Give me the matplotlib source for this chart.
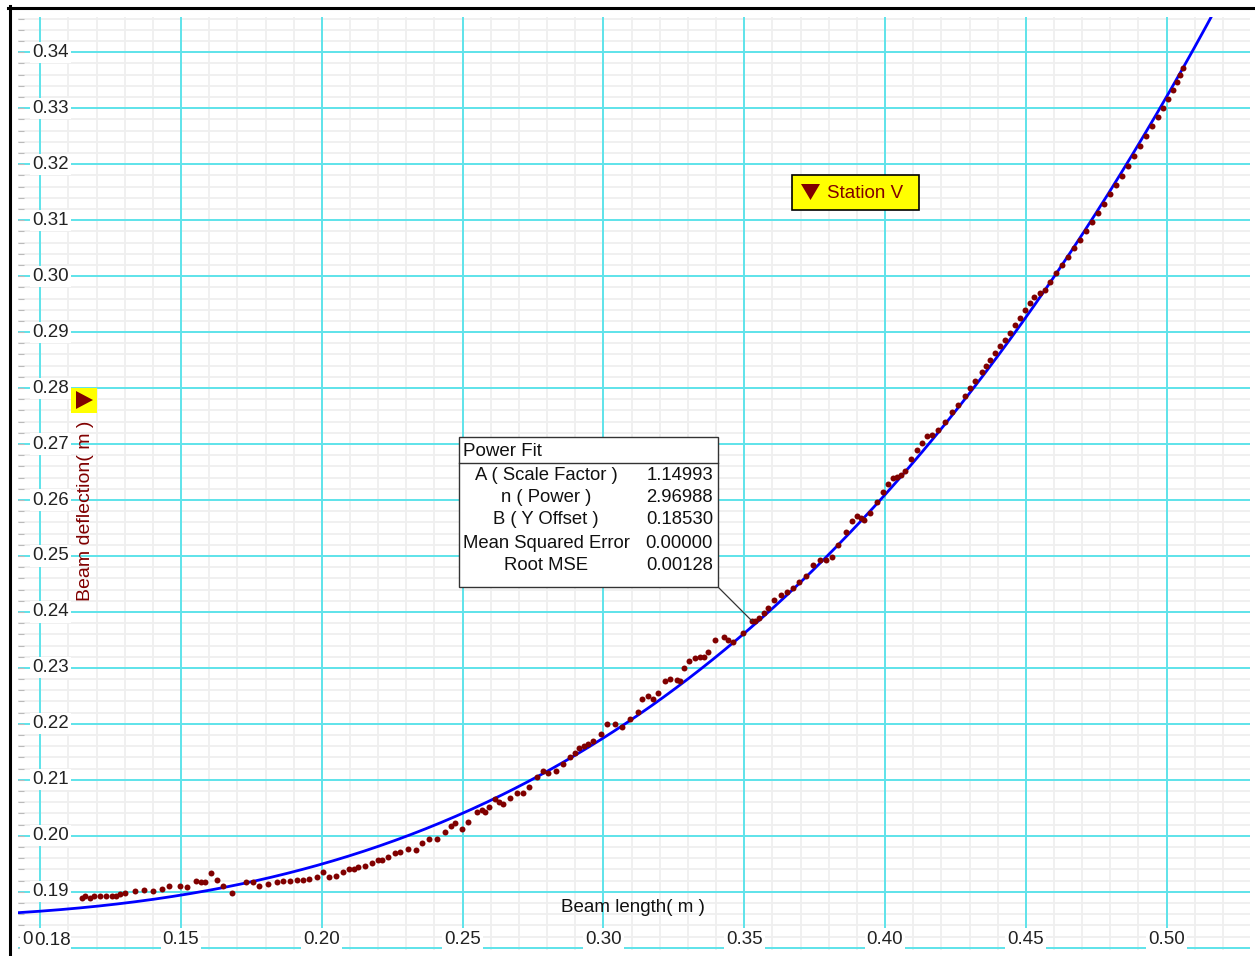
import matplotlib.pyplot as plt
import numpy as np
from matplotlib.transforms import blended_transform_factory
from matplotlib.patches import Rectangle, Polygon
from matplotlib.lines import Line2D

plt.rcParams['font.family'] = ['Liberation Sans', 'DejaVu Sans']

# measured points (Station V)
beam_length = [
    0.1147, 0.1159, 0.1177, 0.1191, 0.1212, 0.1234, 0.1254, 0.1269, 0.1283, 0.1301,
    0.1337, 0.1369, 0.1400, 0.1431, 0.1458, 0.1496, 0.1522, 0.1553, 0.1570, 0.1585,
    0.1605, 0.1627, 0.1648, 0.1680, 0.1731, 0.1755, 0.1778, 0.1810, 0.1842, 0.1863,
    0.1887, 0.1911, 0.1934, 0.1956, 0.1982, 0.2005, 0.2027, 0.2050, 0.2074, 0.2098,
    0.2114, 0.2130, 0.2153, 0.2177, 0.2201, 0.2213, 0.2236, 0.2260, 0.2278, 0.2307,
    0.2335, 0.2355, 0.2382, 0.2408, 0.2438, 0.2458, 0.2473, 0.2497, 0.2520, 0.2550,
    0.2568, 0.2580, 0.2595, 0.2615, 0.2630, 0.2645, 0.2668, 0.2692, 0.2713, 0.2737,
    0.2765, 0.2787, 0.2804, 0.2832, 0.2858, 0.2881, 0.2899, 0.2914, 0.2931, 0.2946,
    0.2962, 0.2990, 0.3012, 0.3041, 0.3065, 0.3094, 0.3122, 0.3136, 0.3159, 0.3177,
    0.3195, 0.3219, 0.3237, 0.3260, 0.3272, 0.3286, 0.3305, 0.3325, 0.3343, 0.3357,
    0.3373, 0.3396, 0.3428, 0.3444, 0.3461, 0.3495, 0.3527, 0.3538, 0.3554, 0.3570,
    0.3586, 0.3607, 0.3630, 0.3651, 0.3672, 0.3696, 0.3719, 0.3743, 0.3769, 0.3791,
    0.3811, 0.3834, 0.3862, 0.3882, 0.3902, 0.3914, 0.3925, 0.3947, 0.3973, 0.3992,
    0.4012, 0.4027, 0.4042, 0.4056, 0.4071, 0.4091, 0.4113, 0.4130, 0.4150, 0.4166,
    0.4189, 0.4213, 0.4238, 0.4259, 0.4284, 0.4302, 0.4320, 0.4344, 0.4359, 0.4373,
    0.4391, 0.4408, 0.4426, 0.4444, 0.4462, 0.4479, 0.4497, 0.4515, 0.4529, 0.4550,
    0.4568, 0.4586, 0.4607, 0.4629, 0.4650, 0.4671, 0.4693, 0.4714, 0.4735, 0.4756,
    0.4778, 0.4799, 0.4820, 0.4842, 0.4863, 0.4884, 0.4906, 0.4927, 0.4948, 0.4969,
    0.4987, 0.5005, 0.5023, 0.5037, 0.5048, 0.5058,
]
beam_deflection = [
    0.1889, 0.1892, 0.1889, 0.1893, 0.1892, 0.1892, 0.1892, 0.1893, 0.1896, 0.1898,
    0.1901, 0.1904, 0.1901, 0.1905, 0.1911, 0.1911, 0.1908, 0.1920, 0.1917, 0.1917,
    0.1933, 0.1921, 0.1911, 0.1898, 0.1917, 0.1917, 0.1911, 0.1914, 0.1917, 0.1920,
    0.1920, 0.1921, 0.1921, 0.1923, 0.1926, 0.1935, 0.1927, 0.1929, 0.1936, 0.1941,
    0.1941, 0.1944, 0.1946, 0.1951, 0.1957, 0.1956, 0.1962, 0.1969, 0.1971, 0.1976,
    0.1975, 0.1987, 0.1995, 0.1995, 0.2006, 0.2017, 0.2023, 0.2013, 0.2025, 0.2043,
    0.2046, 0.2043, 0.2052, 0.2066, 0.2060, 0.2057, 0.2067, 0.2077, 0.2076, 0.2088,
    0.2105, 0.2115, 0.2112, 0.2115, 0.2129, 0.2141, 0.2148, 0.2157, 0.2161, 0.2164,
    0.2170, 0.2182, 0.2199, 0.2199, 0.2195, 0.2209, 0.2221, 0.2245, 0.2249, 0.2245,
    0.2255, 0.2277, 0.2280, 0.2279, 0.2277, 0.2299, 0.2313, 0.2317, 0.2319, 0.2319,
    0.2329, 0.2349, 0.2355, 0.2349, 0.2347, 0.2362, 0.2383, 0.2384, 0.2389, 0.2398,
    0.2407, 0.2421, 0.2430, 0.2436, 0.2443, 0.2454, 0.2465, 0.2484, 0.2493, 0.2493,
    0.2498, 0.2520, 0.2543, 0.2563, 0.2571, 0.2567, 0.2564, 0.2576, 0.2597, 0.2615,
    0.2629, 0.2639, 0.2642, 0.2645, 0.2652, 0.2674, 0.2689, 0.2701, 0.2714, 0.2716,
    0.2725, 0.2739, 0.2757, 0.2770, 0.2786, 0.2800, 0.2812, 0.2829, 0.2839, 0.2850,
    0.2863, 0.2875, 0.2886, 0.2898, 0.2912, 0.2925, 0.2939, 0.2952, 0.2962, 0.2970,
    0.2975, 0.2989, 0.3005, 0.3020, 0.3034, 0.3050, 0.3064, 0.3080, 0.3096, 0.3112,
    0.3129, 0.3146, 0.3163, 0.3179, 0.3196, 0.3214, 0.3232, 0.3250, 0.3268, 0.3284,
    0.3300, 0.3316, 0.3332, 0.3346, 0.3359, 0.3371,
]

# power fit parameters
fit_names = ["A ( Scale Factor )", "n ( Power )", "B ( Y Offset )",
             "Mean Squared Error", "Root MSE"]
fit_values = ["1.14993", "2.96988", "0.18530", "0.00000", "0.00128"]
A, n, B = 1.14993, 2.96988, 0.18530

x_ticks = [0.10, 0.15, 0.20, 0.25, 0.30, 0.35, 0.40, 0.45, 0.50]
y_ticks = [0.18, 0.19, 0.20, 0.21, 0.22, 0.23, 0.24, 0.25, 0.26, 0.27,
           0.28, 0.29, 0.30, 0.31, 0.32, 0.33, 0.34]

W, H = 1255, 956
xlim = (0.0921, 0.5296)
ylim = (0.1796, 0.3463)

fig = plt.figure(figsize=(W / 100, H / 100), dpi=100)
ax = fig.add_axes([18 / W, 6 / H, (1250 - 18) / W, (950 - 17) / H])
ax.set_xlim(*xlim)
ax.set_ylim(*ylim)

cyan = '#5fe3ea'
darkred = '#800000'
fs = 13.5

# grid: light minor lines, cyan major lines
for v in np.arange(0.10, 0.53, 0.01):
    ax.axvline(v, color='#efefef', linewidth=1.3, zorder=0.5)
for v in np.arange(0.18, 0.347, 0.002):
    ax.axhline(v, color='#efefef', linewidth=1.3, zorder=0.5)
for v in x_ticks:
    ax.axvline(v, color=cyan, linewidth=1.4, zorder=1)
for v in y_ticks:
    ax.axhline(v, color=cyan, linewidth=1.4, zorder=1)

ax.set_xticks([])
ax.set_yticks(np.arange(0.18, 0.347, 0.002))
ax.tick_params(axis='y', labelleft=False, direction='in', length=4, color='#bbbbbb')
for s in ax.spines.values():
    s.set_visible(False)

# fitted curve
xc = np.linspace(xlim[0], xlim[1], 400)
ax.plot(xc, A * xc ** n + B, color='#0000ff', linewidth=2.0, zorder=3)

# data points
ax.plot(beam_length, beam_deflection, 'o', color=darkred, markersize=4.3,
        markeredgewidth=0, zorder=4)

# tick labels drawn inside the plot
tx = blended_transform_factory(ax.transData, ax.transAxes)
ty = blended_transform_factory(ax.transAxes, ax.transData)
bb = dict(facecolor='white', edgecolor='none', pad=1.5)
for v in x_ticks:
    ax.text(v, (950 - 939) / 933, f"{v:.2f}", transform=tx, ha='center',
            va='center', fontsize=fs, color='#222222', bbox=bb, zorder=5)
for v in y_ticks:
    if v > 0.185:
        ax.text((32 - 18) / 1232, v, f"{v:.2f}", transform=ty, ha='left',
                va='center', fontsize=fs, color='#222222', bbox=bb, zorder=6)
    else:
        # bottom label sits over the x-origin label, as in the source
        ax.text((34 - 18) / 1232, ylim[0] + (950 - 940) / 5600, f"{v:.2f}",
                transform=ty, ha='left', va='center', fontsize=fs,
                color='#222222', zorder=6,
                bbox=dict(facecolor='white', edgecolor='none', pad=0.4))

# axis titles
fig.text(633 / W, 1 - 908 / H, "Beam length( m )", ha='center', va='center',
         fontsize=fs, color='#111111')
fig.text(85 / W, 1 - 511 / H, "Beam deflection( m )", ha='center', va='center',
         rotation=90, fontsize=14, color=darkred)

# y-axis series marker
fig.patches.append(Rectangle((71 / W, 1 - 413 / H), 26 / W, 25 / H,
                             transform=fig.transFigure, facecolor='#ffff00',
                             edgecolor='none', figure=fig))
fig.patches.append(Polygon([(76 / W, 1 - 391 / H), (76 / W, 1 - 409 / H),
                            (93 / W, 1 - 400 / H)], closed=True,
                           transform=fig.transFigure, facecolor=darkred,
                           edgecolor='none', figure=fig))

# legend box
fig.patches.append(Rectangle((792 / W, 1 - 210 / H), 127 / W, 35 / H,
                             transform=fig.transFigure, facecolor='#ffff00',
                             edgecolor='black', linewidth=1.2, figure=fig))
fig.patches.append(Polygon([(801 / W, 1 - 184 / H), (820 / W, 1 - 184 / H),
                            (810.5 / W, 1 - 200 / H)], closed=True,
                           transform=fig.transFigure, facecolor=darkred,
                           edgecolor='none', figure=fig))
fig.text(827 / W, 1 - 193 / H, "Station V", ha='left', va='center',
         fontsize=fs, color=darkred)

# power fit box
fig.patches.append(Rectangle((459 / W, 1 - 587 / H), 259 / W, 150 / H,
                             transform=fig.transFigure, facecolor='white',
                             edgecolor='#333333', linewidth=1.0, figure=fig))
fig.lines.append(Line2D([459 / W, 718 / W], [1 - 463 / H, 1 - 463 / H],
                        transform=fig.transFigure, color='#333333', linewidth=1.0))
fig.lines.append(Line2D([719 / W, 752 / W], [1 - 588 / H, 1 - 621 / H],
                        transform=fig.transFigure, color='#333333', linewidth=0.9))
fig.text(463 / W, 1 - 451 / H, "Power Fit", ha='left', va='center',
         fontsize=fs, color='#111111')
row_y = [475, 497, 520, 543, 566]
for name, val, ry in zip(fit_names, fit_values, row_y):
    fig.text(546 / W, 1 - ry / H, name, ha='center', va='center',
             fontsize=13.3, color='#111111')
    fig.text(713 / W, 1 - ry / H, val, ha='right', va='center',
             fontsize=13.3, color='#111111')

# outer frame
fig.lines.append(Line2D([9.5 / W, 9.5 / W], [0, 1 - 6 / H],
                        transform=fig.transFigure, color='black', linewidth=2.2))
fig.lines.append(Line2D([8 / W, 1], [1 - 7.5 / H, 1 - 7.5 / H],
                        transform=fig.transFigure, color='black', linewidth=2.2))

fig.savefig('out.png', dpi=100)
